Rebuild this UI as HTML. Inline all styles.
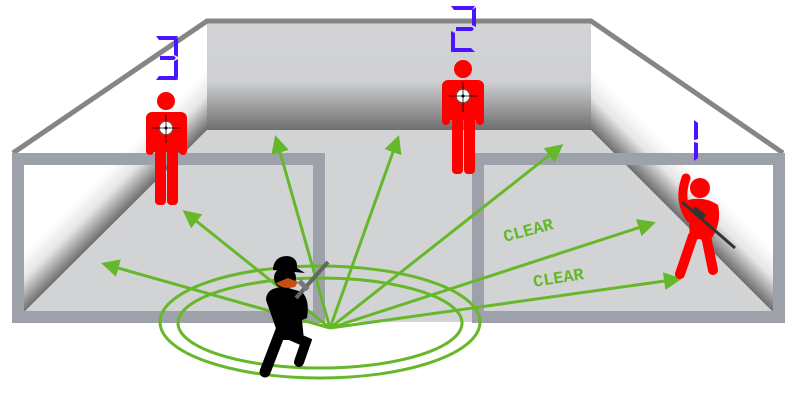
<!DOCTYPE html>
<html><head><meta charset="utf-8"><style>html,body{margin:0;padding:0;background:#fff}svg{display:block}</style></head>
<body>
<svg width="800" height="400" viewBox="0 0 800 400" xmlns="http://www.w3.org/2000/svg">
<defs>
<linearGradient id="bw" x1="0" y1="0" x2="0" y2="1">
<stop offset="0" stop-color="#d2d3d5"/><stop offset="0.55" stop-color="#cfd0d2"/><stop offset="1" stop-color="#6f6f6f"/>
</linearGradient>
<linearGradient id="lsh" gradientUnits="userSpaceOnUse" x1="115" y1="221" x2="85" y2="191">
<stop offset="0" stop-color="#6f6f6f"/><stop offset="0.55" stop-color="#e6e6e6"/><stop offset="1" stop-color="#fff"/>
</linearGradient>
<linearGradient id="rsh" gradientUnits="userSpaceOnUse" x1="682" y1="220" x2="712" y2="190">
<stop offset="0" stop-color="#6f6f6f"/><stop offset="0.55" stop-color="#e6e6e6"/><stop offset="1" stop-color="#fff"/>
</linearGradient>
<marker id="ah" markerWidth="6" markerHeight="6" refX="5" refY="3" orient="auto" markerUnits="strokeWidth">
<path d="M0,0 L6,3 L0,6 z" fill="#66b82a"/>
</marker>
</defs>
<polygon points="207,130 591,130 783,322 13,322" fill="#d2d3d5"/>
<polygon points="13,153 207,21 207,130 24,312 13,312" fill="url(#lsh)"/>
<polygon points="591,21 783,153 783,312 773,312 591,130" fill="url(#rsh)"/>
<rect x="207" y="22" width="384" height="108" fill="url(#bw)"/>
<polyline points="13,153 207,21 591,21 783,153" fill="none" stroke="#858585" stroke-width="5"/>
<rect x="18" y="159" width="301" height="158" fill="none" stroke="#9da1aa" stroke-width="12"/>
<rect x="478" y="159" width="301" height="158" fill="none" stroke="#9da1aa" stroke-width="12"/>
<g fill="none" stroke="#66b82a" stroke-width="3">
<ellipse cx="320" cy="322" rx="160" ry="56"/>
<ellipse cx="320" cy="323" rx="142" ry="45"/>
</g>
<g stroke="#66b82a" stroke-width="3" fill="none" marker-end="url(#ah)">
<line x1="330" y1="328" x2="104" y2="264"/>
<line x1="330" y1="328" x2="185" y2="212"/>
<line x1="330" y1="328" x2="276" y2="138"/>
<line x1="330" y1="328" x2="398" y2="138"/>
<line x1="330" y1="328" x2="561" y2="146"/>
<line x1="330" y1="328" x2="653" y2="223"/>
<line x1="330" y1="328" x2="679" y2="279"/>
</g>
<g fill="#66b82a" font-family="Liberation Mono, monospace" font-weight="bold" font-size="17">
<text x="505" y="242" transform="rotate(-15 505 242)">CLEAR</text>
<text x="534" y="287" transform="rotate(-9 534 287)">CLEAR</text>
</g>
<g fill="#4a14ff">
<polygon points="156,36 178,36 175,40 159,40"/>
<polygon points="174,40 178,37 178,57 174,55"/>
<polygon points="160,56 174,56 176,58 174,60 160,60"/>
<polygon points="174,61 178,59 178,79 174,76"/>
<polygon points="159,76 175,76 178,80 156,80"/>
<polygon points="451,6 475,6 472,10 454,10"/>
<polygon points="472,10 476,7 476,27 472,25"/>
<polygon points="456,27 472,27 474,29 472,31 456,31"/>
<polygon points="451,31 455,33 455,49 451,52"/>
<polygon points="455,48 471,48 475,52 451,52"/>
<polygon points="694,120 698,123 698,139 694,140"/>
<polygon points="694,142 698,143 698,158 694,161"/>
</g>
<g fill="#ff0000">
<circle cx="166" cy="101" r="9"/>
<rect x="146" y="112" width="41" height="40" rx="6"/>
<rect x="146" y="115" width="8" height="40" rx="4"/>
<rect x="179" y="115" width="8" height="40" rx="4"/>
<rect x="155" y="140" width="11" height="65" rx="4"/>
<rect x="167" y="140" width="11" height="65" rx="4"/>
</g>
<g><circle cx="166" cy="128" r="7" fill="#fff" stroke="#a33" stroke-width="1.5"/><line x1="152" y1="128" x2="180" y2="128" stroke="#000" stroke-width="0.8"/><line x1="166" y1="114" x2="166" y2="143" stroke="#000" stroke-width="0.8"/><circle cx="166" cy="128" r="1.5"/></g>
<g fill="#ff0000">
<circle cx="463" cy="69" r="9"/>
<rect x="442" y="80" width="42" height="40" rx="6"/>
<rect x="442" y="83" width="8" height="42" rx="4"/>
<rect x="476" y="83" width="8" height="42" rx="4"/>
<rect x="452" y="110" width="11" height="64" rx="4"/>
<rect x="464" y="110" width="11" height="64" rx="4"/>
</g>
<g><circle cx="463" cy="96" r="7" fill="#fff" stroke="#a33" stroke-width="1.5"/><line x1="449" y1="96" x2="478" y2="96" stroke="#000" stroke-width="0.8"/><line x1="463" y1="82" x2="463" y2="112" stroke="#000" stroke-width="0.8"/><circle cx="463" cy="96" r="1.5"/></g>
<g fill="#ff0000" stroke="#ff0000" stroke-linecap="round">
<circle cx="700" cy="188" r="10" stroke="none"/>
<path d="M688,200 Q705,196 718,205 Q722,222 712,238 L690,240 Z" stroke="none"/>
<path d="M690,218 Q678,200 686,178" fill="none" stroke-width="9"/>
<line x1="693" y1="236" x2="680" y2="274" stroke-width="10"/>
<line x1="706" y1="236" x2="713" y2="270" stroke-width="10"/>
</g>
<line x1="682" y1="202" x2="735" y2="248" stroke="#333" stroke-width="3"/>
<rect x="692" y="210" width="14" height="6" fill="#333" transform="rotate(40 699 213)"/>
<g fill="#000" stroke="#000" stroke-linecap="round">
<path d="M266,300 Q266,287 285,287 L302,292 Q310,300 307,318 L302,320 L304,340 L280,340 Z" stroke="none"/>
<line x1="283" y1="325" x2="265" y2="372" stroke-width="11"/>
<path d="M290,335 L306,342 L299,362" fill="none" stroke-width="10"/>
<circle cx="285" cy="278" r="11" stroke="none"/>
<path d="M273,268 Q275,256 287,256 Q298,257 297,268 L305,273 L273,270 Z" stroke="none"/>
</g>
<path d="M276,283 Q282,290 295,287 L298,282 L288,278 Z" fill="#c94c10"/>
<line x1="296" y1="298" x2="328" y2="262" stroke="#666" stroke-width="4"/>
<rect x="298" y="283" width="12" height="5" fill="#777" transform="rotate(45 304 285)"/>
</svg>
</body></html>
